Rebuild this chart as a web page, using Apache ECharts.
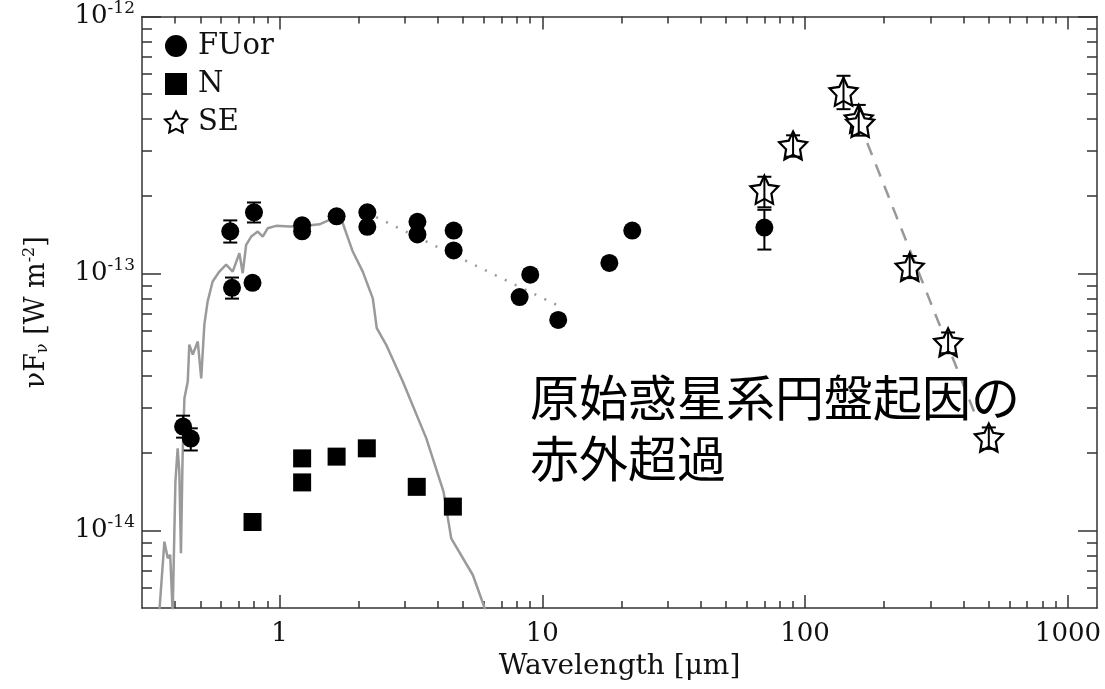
<!DOCTYPE html>
<html>
<head>
<meta charset="utf-8">
<script src="https://cdn.jsdelivr.net/npm/echarts@6/dist/echarts.min.js"></script>
<style>
html, body { margin: 0; padding: 0; background: #fff; }
#sed { width: 1105px; height: 689px; }
</style>
</head>
<body>
<div id="sed"></div>
<script>
// データ (波長 μm, νFν W m^-2)
var fuorData = [
    [0.43, 2.54e-14], [0.46, 2.28e-14], [0.65, 1.46e-13], [0.66, 8.8e-14],
    [0.79, 9.2e-14], [0.80, 1.73e-13], [1.22, 1.54e-13], [1.22, 1.46e-13],
    [1.65, 1.67e-13], [2.16, 1.73e-13], [2.16, 1.52e-13], [3.35, 1.59e-13],
    [3.35, 1.42e-13], [4.6, 1.47e-13], [4.6, 1.23e-13], [8.2, 8.1e-14],
    [9.0, 9.9e-14], [11.5, 6.6e-14], [18, 1.1e-13], [22, 1.47e-13],
    [70, 1.51e-13]
];
var nData = [
    [0.79, 1.08e-14], [1.22, 1.91e-14], [1.22, 1.54e-14], [1.65, 1.94e-14],
    [2.15, 2.09e-14], [3.33, 1.48e-14], [4.57, 1.24e-14]
];
var seData = [
    [70, 2.12e-13], [90, 3.15e-13], [140, 5.1e-13], [160, 4.0e-13],
    [162, 3.85e-13], [250, 1.06e-13], [350, 5.4e-14], [500, 2.3e-14]
];
// 誤差棒 [λ, 下限, 上限]
var errData = [
    [0.43, 2.30e-14, 2.80e-14], [0.46, 2.05e-14, 2.50e-14],
    [0.65, 1.32e-13, 1.61e-13], [0.66, 7.99e-14, 9.65e-14],
    [0.80, 1.58e-13, 1.89e-13], [70, 1.24e-13, 1.77e-13],
    [70, 1.81e-13, 2.38e-13], [90, 2.85e-13, 3.45e-13],
    [140, 4.36e-13, 5.88e-13], [160, 3.44e-13, 4.53e-13],
    [250, 0.96e-13, 1.17e-13], [350, 4.9e-14, 5.9e-14],
    [500, 2.08e-14, 2.52e-14]
];
// 恒星スペクトル
var starSpec = [
    [0.349, 4.8e-15], [0.365, 9.06e-15], [0.376, 7.8e-15], [0.384, 8.06e-15],
    [0.3925, 4.8e-15], [0.402, 1.55e-14], [0.410, 2.09e-14], [0.416, 1.70e-14],
    [0.422, 8.16e-15], [0.428, 1.91e-14], [0.435, 3.27e-14], [0.448, 3.80e-14],
    [0.454, 5.29e-14], [0.468, 4.84e-14], [0.489, 5.44e-14], [0.504, 3.91e-14],
    [0.518, 6.33e-14], [0.533, 7.78e-14], [0.557, 9.31e-14], [0.591, 1.018e-13],
    [0.627, 1.084e-13], [0.664, 1.018e-13], [0.704, 1.199e-13], [0.725, 1.003e-13],
    [0.747, 1.293e-13], [0.781, 1.393e-13], [0.827, 1.457e-13], [0.864, 1.393e-13],
    [0.903, 1.501e-13], [0.971, 1.533e-13], [1.092, 1.524e-13], [1.264, 1.533e-13],
    [1.42, 1.555e-13], [1.55, 1.618e-13], [1.644, 1.692e-13], [1.742, 1.569e-13],
    [1.901, 1.218e-13], [2.075, 1.018e-13], [2.266, 8.01e-14], [2.346, 6.13e-14],
    [2.548, 5.28e-14], [2.947, 3.80e-14], [3.618, 2.29e-14], [4.21, 1.418e-14],
    [4.504, 9.33e-15], [5.443, 6.72e-15], [6.122, 4.8e-15]
];
var dotLine = [[2.14, 1.73e-13], [11.5, 7.5e-14]];
var dashLine = [[160, 3.9e-13], [450, 2.73e-14]];

// 目盛
var xMajor = [1, 10, 100, 1000];
var xMinor = [0.4, 0.5, 0.6, 0.7, 0.8, 0.9, 2, 3, 4, 5, 6, 7, 8, 9,
    20, 30, 40, 50, 60, 70, 80, 90, 200, 300, 400, 500, 600, 700, 800, 900];
var yMajor = [1e-14, 1e-13, 1e-12];
var yMinor = [6e-15, 7e-15, 8e-15, 9e-15, 2e-14, 3e-14, 4e-14, 5e-14, 6e-14,
    7e-14, 8e-14, 9e-14, 2e-13, 3e-13, 4e-13, 5e-13, 6e-13, 7e-13, 8e-13, 9e-13];

var serif = 'DejaVu Serif';
var frameColor = '#333';
var starPath = 'path://M0,-100L29.4,-40.5L95.1,-30.9L47.6,15.5L58.8,80.9L0,50L-58.8,80.9L-47.6,15.5L-95.1,-30.9L-29.4,-40.5Z';

function makeX(pos, ticks, len, labels) {
    return {
        type: 'log', gridIndex: 0, position: pos, min: 0.3, max: 1290,
        axisLine: { show: labels != null, onZero: false, lineStyle: { color: frameColor, width: 1.5 } },
        axisTick: { show: true, inside: true, length: len, customValues: ticks,
            lineStyle: { color: frameColor, width: 1.5 } },
        axisLabel: labels ? {
            show: true, customValues: ticks, margin: 13,
            fontFamily: serif, fontSize: 26, color: '#111',
            formatter: function (v) { return String(Math.round(v)); }
        } : { show: false },
        splitLine: { show: false },
        minorTick: { show: false }
    };
}
function makeY(pos, ticks, len, labels) {
    return {
        type: 'log', gridIndex: 0, position: pos, min: 5e-15, max: 1e-12,
        axisLine: { show: labels != null, onZero: false, lineStyle: { color: frameColor, width: 1.5 } },
        axisTick: { show: true, inside: true, length: len, customValues: ticks,
            lineStyle: { color: frameColor, width: 1.5 } },
        axisLabel: labels ? {
            show: true, customValues: ticks, margin: 7,
            formatter: function (v) {
                return '{b|10}{s|' + Math.round(Math.log10(v)) + '}';
            },
            rich: {
                b: { fontFamily: serif, fontSize: 26, color: '#111' },
                s: { fontFamily: serif, fontSize: 17, color: '#111', padding: [0, 0, 16, 0] }
            }
        } : { show: false },
        splitLine: { show: false },
        minorTick: { show: false }
    };
}

var xMain = makeX('bottom', xMajor, 13, true);
xMain.name = 'Wavelength [μm]';
xMain.nameLocation = 'middle';
xMain.nameGap = 45;
xMain.nameTextStyle = { fontFamily: serif, fontSize: 28, color: '#111' };
var yMain = makeY('left', yMajor, 19, true);
yMain.name = 'νF{sub|ν} [W m{sup|-2}]';
yMain.nameLocation = 'middle';
yMain.nameGap = 90;
yMain.nameRotate = 90;
yMain.nameTextStyle = {
    fontFamily: serif, fontSize: 27, color: '#111',
    rich: {
        sub: { fontFamily: serif, fontSize: 16, color: '#111', padding: [12, 0, 0, 0] },
        sup: { fontFamily: serif, fontSize: 16, color: '#111', padding: [0, 0, 14, 0] }
    }
};

var dom = document.getElementById('sed');
var myChart = echarts.init(dom);
var option = {
    backgroundColor: '#fff',
    animation: false,
    grid: { left: 142, right: 8, top: 15, bottom: 81, containLabel: false },
    legend: {
        orient: 'vertical', left: 164, top: 31, padding: 0,
        itemWidth: 22, itemHeight: 22, itemGap: 8,
        textStyle: { fontFamily: serif, fontSize: 29, lineHeight: 30, color: '#111', padding: [0, 0, 0, 6] },
        data: ['FUor', 'N', 'SE']
    },
    xAxis: [
        xMain,
        makeX('bottom', xMinor, 7, null),
        makeX('top', xMajor, 13, false),
        makeX('top', xMinor, 7, null)
    ],
    yAxis: [
        yMain,
        makeY('left', yMinor, 10, null),
        makeY('right', yMajor, 19, false),
        makeY('right', yMinor, 10, null)
    ],
    graphic: [{
        type: 'text', left: 530, top: 367, z: 50,
        style: {
            text: '原始惑星系円盤起因の\n赤外超過',
            font: '49px "Noto Sans CJK JP"', lineHeight: 61, fill: '#000'
        }
    }],
    series: [
        {
            name: 'spectrum', type: 'line', data: starSpec, showSymbol: false,
            lineStyle: { color: '#9a9a9a', width: 2.5 }, z: 1, clip: true
        },
        {
            name: 'dot', type: 'line', data: dotLine, showSymbol: false,
            lineStyle: { color: '#999', width: 2.5, type: [2, 9] }, z: 1
        },
        {
            name: 'dash', type: 'line', data: dashLine, showSymbol: false,
            lineStyle: { color: '#999', width: 2.5, type: [13, 10] }, z: 1
        },
        {
            name: 'N', type: 'scatter', data: nData, symbol: 'rect', symbolSize: 18,
            itemStyle: { color: '#000', opacity: 1 }, z: 3
        },
        {
            name: 'FUor', type: 'scatter', data: fuorData, symbol: 'circle', symbolSize: 18,
            itemStyle: { color: '#000', opacity: 1 }, z: 3
        },
        {
            name: 'SE', type: 'scatter', data: seData, symbol: starPath, symbolSize: 28,
            itemStyle: { color: '#fff', borderColor: '#000', borderWidth: 2.2, opacity: 1 }, z: 4
        },
        {
            name: 'err', type: 'custom', data: errData, z: 5,
            encode: { x: 0, y: [1, 2] },
            renderItem: function (params, api) {
                var lo = api.coord([api.value(0), api.value(1)]);
                var hi = api.coord([api.value(0), api.value(2)]);
                var w = 7;
                var st = { stroke: '#000', lineWidth: 2 };
                return {
                    type: 'group',
                    children: [
                        { type: 'line', shape: { x1: lo[0], y1: lo[1], x2: hi[0], y2: hi[1] }, style: st },
                        { type: 'line', shape: { x1: lo[0] - w, y1: lo[1], x2: lo[0] + w, y2: lo[1] }, style: st },
                        { type: 'line', shape: { x1: hi[0] - w, y1: hi[1], x2: hi[0] + w, y2: hi[1] }, style: st }
                    ]
                };
            }
        }
    ]
};
if (option && typeof option === "object") {
    myChart.setOption(option, true);
}
</script>
</body>
</html>
